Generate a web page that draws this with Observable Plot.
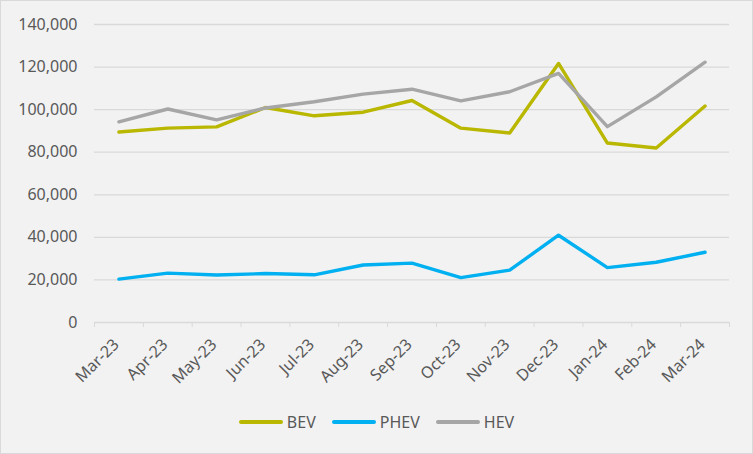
<!DOCTYPE html>
<html>
<head>
<meta charset="utf-8">
<script src="https://cdn.jsdelivr.net/npm/d3@7"></script>
<script src="https://cdn.jsdelivr.net/npm/@observablehq/plot@0.6"></script>
<style>
  html, body { margin: 0; padding: 0; background: #f2f2f2; }
  #chart {
    position: relative; box-sizing: border-box; width: 753px; height: 454px;
    border: 1px solid #d9d9d9; background: #f2f2f2; overflow: hidden;
    font-family: "Noto Sans", sans-serif; color: #595959;
  }
  #chart svg { display: block; }
  #chart svg g[aria-label="x-axis"], #chart svg g[aria-label="x-axis tick"] { color: #d9d9d9; }
  .legend { position: absolute; left: 0; right: 0; top: 404px; height: 34px;
    display: flex; justify-content: center; align-items: center; font-size: 16px; }
  .legend .item { display: flex; align-items: center; margin: 0 8px; }
  .legend .swatch { width: 44px; height: 4px; border-radius: 2px; margin-right: 4px; }
</style>
</head>
<body>
<div id="chart"></div>
<script>
const months = ["Mar-23","Apr-23","May-23","Jun-23","Jul-23","Aug-23","Sep-23","Oct-23","Nov-23","Dec-23","Jan-24","Feb-24","Mar-24"];
const bev  = [89500, 91300, 91900, 101000, 97100, 98800, 104300, 91300, 89000, 121700, 84300, 82000, 101700];
const phev = [20400, 23200, 22300, 23000, 22400, 27000, 27900, 21100, 24600, 41000, 25800, 28300, 33000];
const hev  = [94300, 100300, 95200, 100800, 103700, 107300, 109600, 104100, 108400, 117000, 92000, 106000, 122300];
const seriesNames = ["BEV", "PHEV", "HEV"];
const seriesColors = ["#b9b700", "#00b0f0", "#a6a6a6"];
const yTicks = [0, 20000, 40000, 60000, 80000, 100000, 120000, 140000];

const seriesValues = [bev, phev, hev];
const rows = [];
seriesNames.forEach((s, k) => seriesValues[k].forEach((v, i) => rows.push({series: s, i, value: v})));
const idx = months.map((m, i) => i);
const boundaries = d3.range(months.length + 1).map(i => i - 0.5);

const plot = Plot.plot({
  width: 751,
  height: 403,
  marginLeft: 93,
  marginRight: 23,
  marginTop: 23,
  marginBottom: 82,
  style: {background: "#f2f2f2", fontFamily: "Noto Sans", fontSize: "16px", color: "#595959"},
  x: {type: "linear", domain: [-0.5, months.length - 0.5], ticks: boundaries, tickFormat: () => "", tickSize: 5, label: null},
  y: {domain: [0, 140000], ticks: yTicks, tickFormat: d3.format(","), tickSize: 0, tickPadding: 17, label: null},
  color: {domain: seriesNames, range: seriesColors},
  marks: [
    Plot.ruleY(yTicks, {stroke: "#d9d9d9", strokeWidth: 1.3}),
    Plot.line(rows, {x: "i", y: "value", z: "series", stroke: "series", strokeWidth: 3.4, strokeLinecap: "round", strokeLinejoin: "round"}),
    Plot.text(idx, {x: d => d, frameAnchor: "bottom", text: d => months[d], rotate: -45, textAnchor: "end", dy: 23, dx: 1, fontSize: 16, fill: "#595959"})
  ]
});
const chart = document.getElementById("chart");
chart.appendChild(plot);

const legend = document.createElement("div");
legend.className = "legend";
seriesNames.forEach((s, k) => {
  const item = document.createElement("div");
  item.className = "item";
  const sw = document.createElement("div");
  sw.className = "swatch";
  sw.style.background = seriesColors[k];
  const lab = document.createElement("span");
  lab.textContent = s;
  item.appendChild(sw); item.appendChild(lab);
  legend.appendChild(item);
});
chart.appendChild(legend);
</script>
</body>
</html>
